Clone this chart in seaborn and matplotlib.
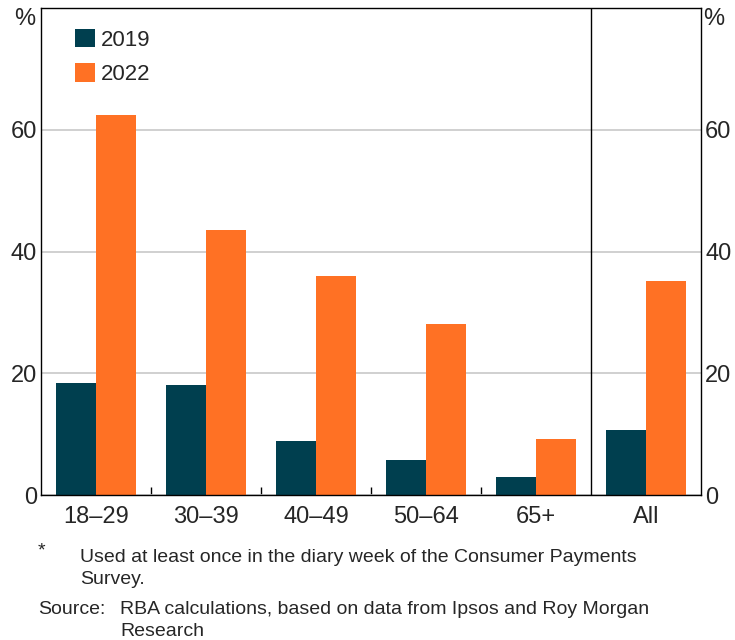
import matplotlib
matplotlib.use("Agg")
import matplotlib.pyplot as plt
import numpy as np
import pandas as pd
import seaborn as sns

# data (per cent)
groups = ['18–29', '30–39', '40–49', '50–64', '65+', 'All']
years = ['2019', '2022']
share_2019 = [18.4, 18.1, 8.9, 5.8, 3.0, 10.7]
share_2022 = [62.5, 43.6, 36.0, 28.1, 9.2, 35.2]

df = pd.DataFrame({
    'group': groups * 2,
    'year': [years[0]] * len(groups) + [years[1]] * len(groups),
    'share': share_2019 + share_2022,
})

sns.set_theme(style='white')
plt.rcParams['font.family'] = ['Liberation Sans', 'DejaVu Sans']

palette = {'2019': '#003F4F', '2022': '#FF7124'}

fig = plt.figure(figsize=(7.35, 6.4), dpi=100)
ax = fig.add_axes([41 / 735, 1 - 495 / 640, 660 / 735, 487 / 640])

sns.barplot(data=df, x='group', y='share', hue='year', order=groups,
            hue_order=years, palette=palette, width=0.727, gap=0,
            saturation=1, linewidth=0, ax=ax)

ax.set_xlim(-0.5, 5.5)
ax.set_ylim(0, 80)
ax.set_yticks([0, 20, 40, 60])
ax.yaxis.grid(True, color='#c8c8c8', linewidth=1.2)
ax.set_axisbelow(True)
ax.set_xlabel('')
ax.set_ylabel('')

for s in ax.spines.values():
    s.set_color('black')
    s.set_linewidth(1)

# divider before the "All" bar
ax.axvline(4.5, color='black', linewidth=1)

ax.tick_params(axis='y', which='both', left=False, right=False, length=0,
               labelleft=True, labelright=True, labelsize=17, pad=3)
ax.tick_params(axis='x', which='major', bottom=False, length=0, labelsize=17, pad=8)
ax.set_xticks([0.5, 1.5, 2.5, 3.5], minor=True)
ax.tick_params(axis='x', which='minor', bottom=True, direction='in',
               length=6, width=1, color='black')

ax.text(-6 / 660, 1.0, '%', transform=ax.transAxes, ha='right', va='top', fontsize=17)
ax.text(1.003, 1.0, '%', transform=ax.transAxes, ha='left', va='top', fontsize=17)

leg = ax.legend(loc='upper left', bbox_to_anchor=(34 / 660, 1 - 21 / 487), frameon=False,
                fontsize=16, handlelength=0.9, handleheight=0.9,
                handletextpad=0.25, labelspacing=0.55, borderaxespad=0, borderpad=0)

fs = 14
fig.text(38 / 735, 1 - 551 / 640, '*', fontsize=fs, va='center')
fig.text(80 / 735, 1 - 557 / 640, 'Used at least once in the diary week of the Consumer Payments',
         fontsize=fs, va='center')
fig.text(80 / 735, 1 - 580 / 640, 'Survey.', fontsize=fs, va='center')
fig.text(38 / 735, 1 - 609 / 640, 'Source:', fontsize=fs, va='center')
fig.text(120 / 735, 1 - 609 / 640, 'RBA calculations, based on data from Ipsos and Roy Morgan',
         fontsize=fs, va='center')
fig.text(120 / 735, 1 - 632 / 640, 'Research', fontsize=fs, va='center')

fig.savefig('out.png', dpi=100)
